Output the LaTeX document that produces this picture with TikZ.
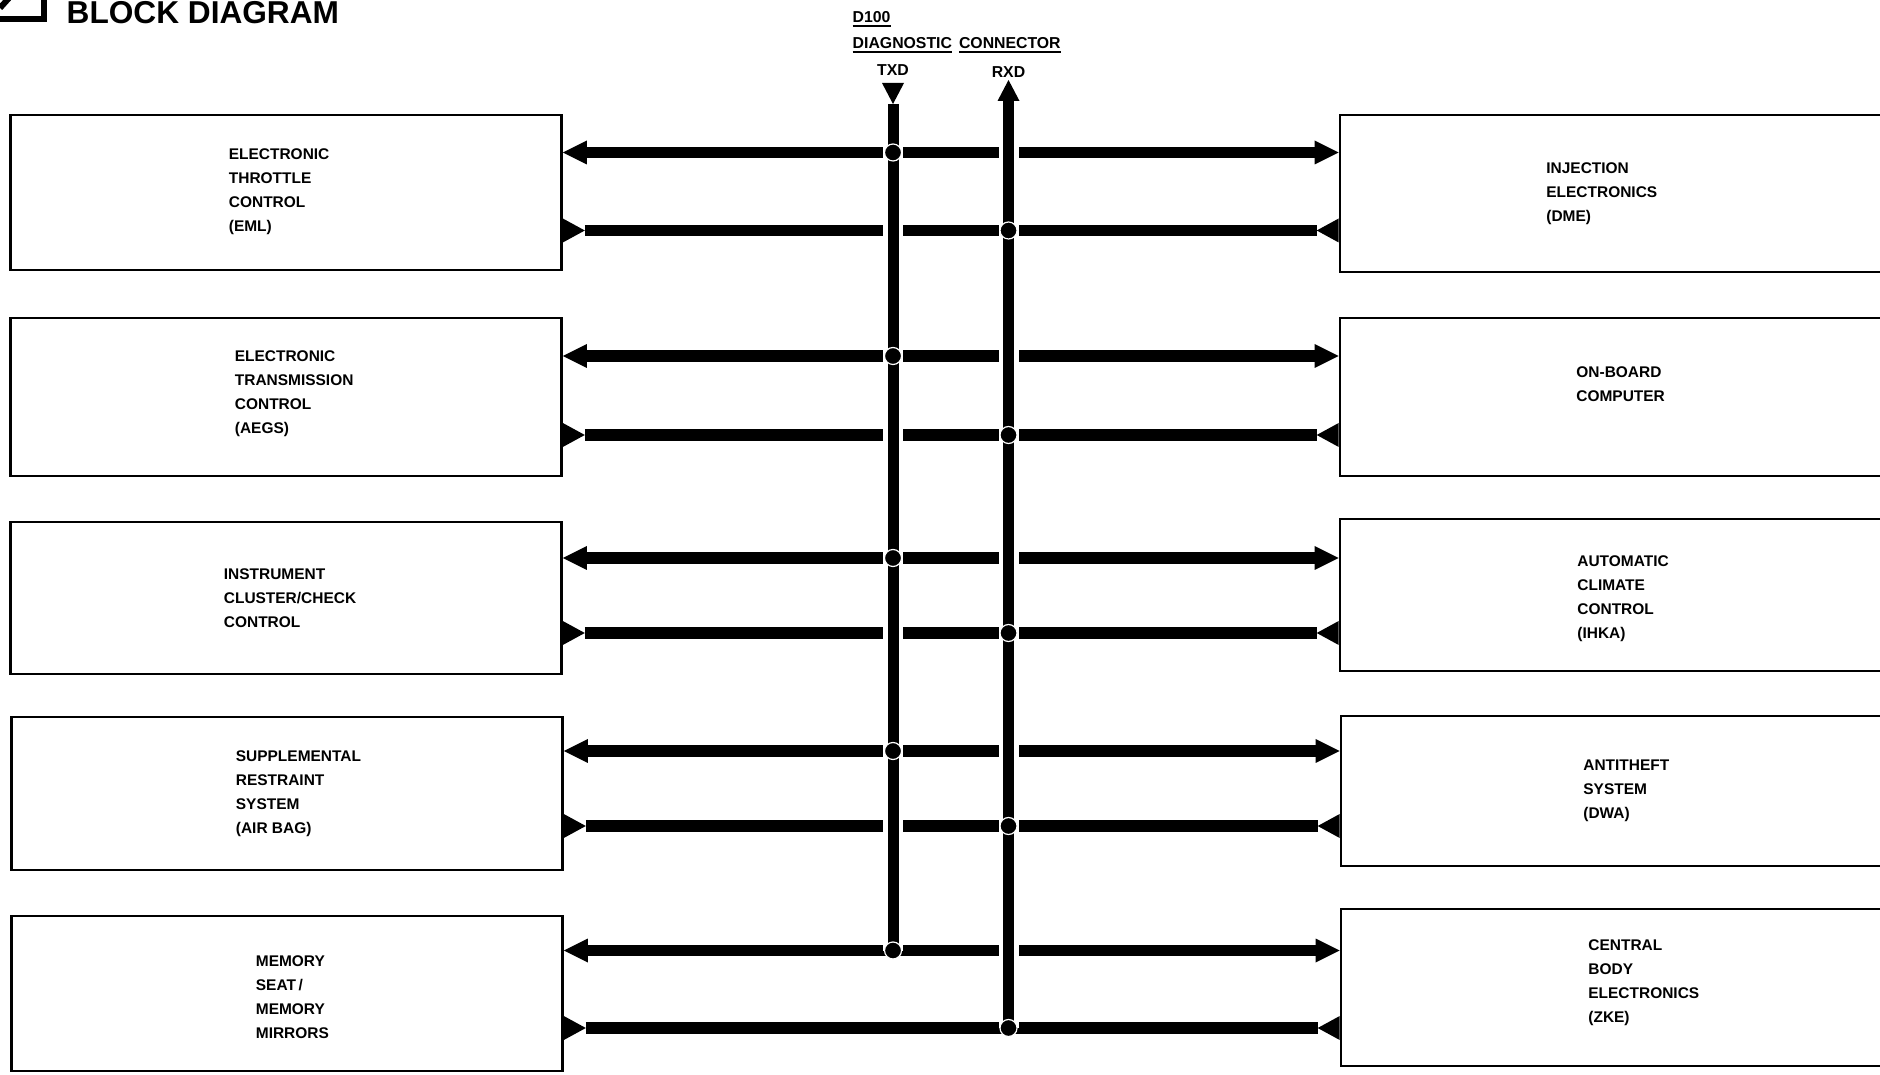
\documentclass[tikz,border=0pt]{standalone}
\usepackage{fontspec}
\setsansfont{Liberation Sans}
\usepackage{tikz}
\usetikzlibrary{arrows.meta,positioning}
\newcommand{\ulword}[1]{\vtop{\hbox{#1}\kern0.6pt\hrule height0.45pt}}

\begin{document}
\begin{tikzpicture}[
    unit/.style={draw,line width=0.75pt,minimum width=5.51cm,inner sep=0pt},
    unitname/.style={anchor=west,inner sep=0pt,align=left,
      font=\sffamily\bfseries\fontsize{4.4}{6.8}\selectfont},
    tag/.style={inner sep=0pt,font=\sffamily\bfseries\fontsize{4.5}{5.5}\selectfont},
    toline/.style={line width=1.15mm,-{Triangle[length=2.4mm,width=2.4mm,line width=0pt]}},
    fromline/.style={line width=1.15mm,{Triangle[length=2.2mm,width=2.4mm,line width=0pt,reversed]}-},
    bus/.style={line width=1.1mm,preaction={draw=white,line width=2mm,-}},
    joint/.style={fill=black,draw=white,line width=0.12mm}]
\useasboundingbox (0,0) rectangle (18.8,-10.75);
% heading
\draw[line width=0.6mm] (0,-0.19)--(0.44,-0.19)--(0.44,0.02);
\draw[line width=0.6mm] (0,-0.08)--(0.09,0.02);
\node[anchor=base west,inner sep=0pt,font=\sffamily\bfseries\fontsize{9}{10}\selectfont]
  (title) at (0.66,-0.235) {BLOCK DIAGRAM};
% control units, left column
\node[unit,minimum height=1.55cm] (L1) at (2.86,-1.925) {};
\node[unit,minimum height=1.58cm] (L2) at (2.86,-3.97) {};
\node[unit,minimum height=1.52cm] (L3) at (2.86,-5.98) {};
\node[unit,minimum height=1.53cm] (L4) at (2.87,-7.935) {};
\node[unit,minimum height=1.55cm] (L5) at (2.87,-9.935) {};
\node[unitname] (L1name) at ([xshift=2.19cm,yshift=0.01cm]L1.west) {ELECTRONIC\\THROTTLE\\CONTROL\\(EML)};
\node[unitname] (L2name) at ([xshift=2.25cm,yshift=0.03cm]L2.west) {ELECTRONIC\\TRANSMISSION\\CONTROL\\(AEGS)};
\node[unitname] (L3name) at ([xshift=2.14cm]L3.west) {INSTRUMENT\\CLUSTER/CHECK\\CONTROL};
\node[unitname] (L4name) at ([xshift=2.25cm]L4.west) {SUPPLEMENTAL\\RESTRAINT\\SYSTEM\\(AIR BAG)};
\node[unitname] (L5name) at ([xshift=2.45cm,yshift=-0.04cm]L5.west) {MEMORY\\SEAT\,/\\MEMORY\\MIRRORS};
% control units, right column
\node[unit,minimum height=1.57cm] (R1) at (16.155,-1.935) {};
\node[unit,minimum height=1.58cm] (R2) at (16.155,-3.97) {};
\node[unit,minimum height=1.52cm] (R3) at (16.155,-5.95) {};
\node[unit,minimum height=1.50cm] (R4) at (16.165,-7.91) {};
\node[unit,minimum height=1.57cm] (R5) at (16.165,-9.875) {};
\node[unitname] (R1name) at ([xshift=2.07cm]R1.west) {INJECTION\\ELECTRONICS\\(DME)};
\node[unitname] (R2name) at ([xshift=2.37cm,yshift=0.13cm]R2.west) {ON-BOARD\\COMPUTER};
\node[unitname] (R3name) at ([xshift=2.38cm,yshift=-0.04cm]R3.west) {AUTOMATIC\\CLIMATE\\CONTROL\\(IHKA)};
\node[unitname] (R4name) at ([xshift=2.43cm]R4.west) {ANTITHEFT\\SYSTEM\\(DWA)};
\node[unitname] (R5name) at ([xshift=2.48cm,yshift=0.05cm]R5.west) {CENTRAL\\BODY\\ELECTRONICS\\(ZKE)};
% diagnostic connector pins
\coordinate (txd) at (8.93,-0.83);
\coordinate (rxd) at (10.085,-0.80);
% taps on TXD (t) and RXD (r)
\coordinate (t1) at (8.93,-1.525);
\coordinate (r1) at (10.085,-2.305);
\coordinate (t2) at (8.93,-3.56);
\coordinate (r2) at (10.085,-4.35);
\coordinate (t3) at (8.93,-5.58);
\coordinate (r3) at (10.085,-6.33);
\coordinate (t4) at (8.93,-7.51);
\coordinate (r4) at (10.085,-8.26);
\coordinate (t5) at (8.93,-9.505);
\coordinate (r5) at (10.085,-10.28);
% TXD lines out to the units
\draw[toline] (t1)--(t1 -| L1.east);
\draw[toline] (t1)--(t1 -| R1.west);
\draw[toline] (t2)--(t2 -| L2.east);
\draw[toline] (t2)--(t2 -| R2.west);
\draw[toline] (t3)--(t3 -| L3.east);
\draw[toline] (t3)--(t3 -| R3.west);
\draw[toline] (t4)--(t4 -| L4.east);
\draw[toline] (t4)--(t4 -| R4.west);
\draw[toline] (t5)--(t5 -| L5.east);
\draw[toline] (t5)--(t5 -| R5.west);
% RXD lines back from the units
\draw[fromline] (L1.east |- r1)--(r1);
\draw[fromline] (R1.west |- r1)--(r1);
\draw[fromline] (L2.east |- r2)--(r2);
\draw[fromline] (R2.west |- r2)--(r2);
\draw[fromline] (L3.east |- r3)--(r3);
\draw[fromline] (R3.west |- r3)--(r3);
\draw[fromline] (L4.east |- r4)--(r4);
\draw[fromline] (R4.west |- r4)--(r4);
\draw[fromline] (L5.east |- r5)--(r5);
\draw[fromline] (R5.west |- r5)--(r5);
% the two bus wires
\draw[bus,{Triangle[length=2.1mm,width=2.2mm,line width=0pt,reversed]}-] (txd)--(t5);
\draw[bus,{Triangle[length=2.1mm,width=2.2mm,line width=0pt]}-] (rxd)--(r5);
\filldraw[joint] (t1) circle (0.085);
\filldraw[joint] (t2) circle (0.085);
\filldraw[joint] (t3) circle (0.085);
\filldraw[joint] (t4) circle (0.085);
\filldraw[joint] (t5) circle (0.085);
\filldraw[joint] (r1) circle (0.085);
\filldraw[joint] (r2) circle (0.085);
\filldraw[joint] (r3) circle (0.085);
\filldraw[joint] (r4) circle (0.085);
\filldraw[joint] (r5) circle (0.085);
% connector labels
\node[tag,anchor=base west] (d100) at (8.52,-0.23) {\ulword{D100}};
\node[tag,anchor=base west] (dlc) at (8.52,-0.49) {\ulword{DIAGNOSTIC}\hspace{2pt}\ulword{CONNECTOR}};
\node[tag,above=0.65mm of txd] (txdtag) {TXD};
\node[tag,above=0.2mm of rxd] (rxdtag) {RXD};
\end{tikzpicture}
\end{document}
